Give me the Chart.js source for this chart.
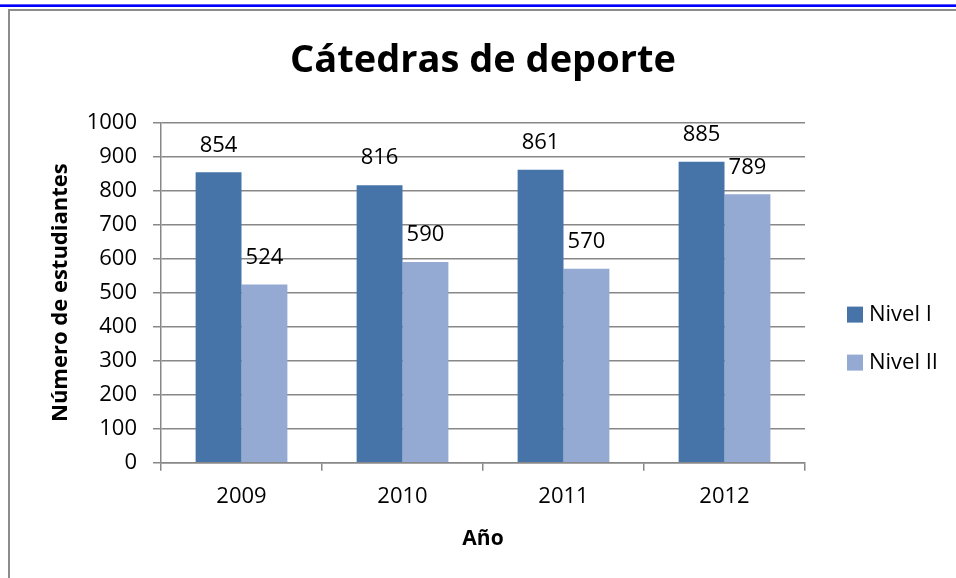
<!DOCTYPE html>
<html>
<head>
<meta charset="utf-8">
<script src="https://cdn.jsdelivr.net/npm/chart.js@4.4.1/dist/chart.umd.min.js"></script>
<style>
  html, body { margin: 0; padding: 0; background: #fff; }
  #wrap { position: relative; width: 956px; height: 578px; overflow: hidden; }
  #chart { position: absolute; left: 0; top: 0; }
  .blue1 { position: absolute; left: 0; top: 4px; width: 956px; height: 1px; background: #5a5aff; }
  .blue2 { position: absolute; left: 0; top: 5px; width: 956px; height: 2px; background: #0000ff; }
  .frameTop { position: absolute; left: 8px; top: 9px; width: 948px; height: 2px; background: #8c8c8c; }
  .frameLeft { position: absolute; left: 8px; top: 9px; width: 2px; height: 569px; background: #8c8c8c; }
</style>
</head>
<body>
<div id="wrap">
  <canvas id="chart" width="956" height="578"></canvas>
  <div class="blue1"></div>
  <div class="blue2"></div>
  <div class="frameTop"></div>
  <div class="frameLeft"></div>
</div>
<script>
// Data
const years = ['2009', '2010', '2011', '2012'];
const nivel1 = [854, 816, 861, 885];
const nivel2 = [524, 590, 570, 789];
const seriesNames = ['Nivel I', 'Nivel II'];
const seriesColors = ['#4674A8', '#95AAD2'];

const FONT = "'Open Sans', 'Noto Sans', sans-serif";

// value labels above each bar
const barLabels = {
    id: 'barLabels',
    afterDatasetsDraw(chart) {
        const ctx = chart.ctx;
        ctx.save();
        ctx.font = '22px ' + FONT;
        ctx.fillStyle = '#000';
        ctx.textAlign = 'center';
        ctx.textBaseline = 'middle';
        chart.data.datasets.forEach((ds, i) => {
            chart.getDatasetMeta(i).data.forEach((bar, j) => {
                ctx.fillText(String(ds.data[j]), bar.x, bar.y - 27);
            });
        });
        ctx.restore();
    }
};

// legend on the right, Excel style
const sideLegend = {
    id: 'sideLegend',
    afterDraw(chart) {
        const ctx = chart.ctx;
        const area = chart.chartArea;
        ctx.save();
        ctx.font = '22px ' + FONT;
        ctx.textBaseline = 'middle';
        ctx.textAlign = 'left';
        chart.data.datasets.forEach((ds, i) => {
            const x = area.right + 42;
            const y = area.top + 192 + i * 48;
            ctx.fillStyle = ds.backgroundColor;
            ctx.fillRect(x, y - 8, 16, 16);
            ctx.fillStyle = '#000';
            ctx.fillText(ds.label, x + 22, y);
        });
        ctx.restore();
    }
};

new Chart(document.getElementById('chart'), {
    type: 'bar',
    data: {
        labels: years,
        datasets: [
            { label: seriesNames[0], data: nivel1, backgroundColor: seriesColors[0] },
            { label: seriesNames[1], data: nivel2, backgroundColor: seriesColors[1] }
        ]
    },
    options: {
        responsive: false,
        animation: false,
        categoryPercentage: 0.57,
        barPercentage: 1.0,
        layout: { padding: { left: 46, right: 151, top: 10, bottom: 22 } },
        plugins: {
            legend: { display: false },
            tooltip: { enabled: false },
            title: {
                display: true,
                fullSize: false,
                text: 'Cátedras de deporte',
                color: '#000',
                font: { family: FONT, size: 38, weight: 'bold' },
                padding: { top: 28, bottom: 39 }
            }
        },
        scales: {
            x: {
                afterFit(scale) { scale.height = 93.3; },
                grid: { offset: true, drawOnChartArea: false, drawTicks: true, tickLength: 8, color: '#888', lineWidth: 1.5 },
                border: { color: '#888', width: 1.5 },
                ticks: { color: '#000', padding: 13, font: { family: FONT, size: 22 } },
                title: {
                    display: true, text: 'Año', color: '#000',
                    font: { family: FONT, size: 21, weight: 'bold' },
                    padding: { top: 4, bottom: 4 }
                }
            },
            y: {
                min: 0,
                max: 1000,
                afterFit(scale) { scale.width = 115; },
                grid: { color: '#888', lineWidth: 1.5, tickLength: 8 },
                border: { color: '#888', width: 1.5 },
                ticks: {
                    stepSize: 100, color: '#000', padding: 16, font: { family: FONT, size: 22 },
                    callback: (v) => String(v)
                },
                title: {
                    display: true, text: 'Número de estudiantes', color: '#000',
                    font: { family: FONT, size: 22, weight: 'bold' },
                    padding: { top: 2, bottom: 4 }
                }
            }
        }
    },
    plugins: [barLabels, sideLegend]
});
</script>
</body>
</html>
